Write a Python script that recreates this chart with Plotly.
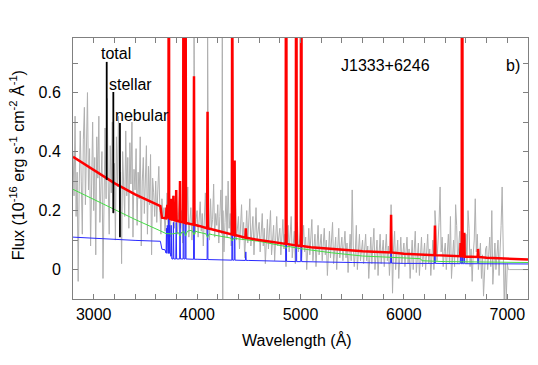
import plotly.graph_objects as go

# ---------------- data ----------------
# Observed spectrum (grey), sampled on a 10 A grid starting at 2800 A
obs_start = 2800
obs_step = 10
obs_flux = [
    # 2800-2990
    0.40, 0.25, 0.52, 0.18, 0.33, -0.04, 0.28, 0.47, 0.30, 0.12, 0.44, 0.55, 0.22, 0.36, 0.60, 0.27, 0.41, 0.08, 0.35, 0.50,
    # 3000-3190
    0.20, 0.38, 0.05, 0.45, 0.31, 0.52, 0.16, 0.29, 0.40, -0.03, 0.34, 0.48, 0.24, 0.58, 0.30, 0.12, 0.42, 0.26, 0.50, 0.19,
    # 3200-3390
    0.36, 0.10, 0.45, 0.28, 0.52, 0.21, 0.33, 0.02, 0.40, 0.30, 0.18, 0.47, 0.25, 0.38, 0.14, 0.43, 0.29, 0.50, 0.11, 0.34,
    # 3400-3590
    0.27, 0.41, 0.15, 0.33, 0.24, 0.45, 0.08, 0.30, 0.38, 0.19, 0.28, 0.42, 0.12, 0.35, 0.22, 0.39, 0.05, 0.31, 0.26, 0.18,
    # 3600-3790
    0.30, 0.16, 0.27, 0.35, 0.20, 0.12, 0.24, 0.18, 0.21, 0.13, 0.19, 0.26, 0.15, 0.22, 0.11, 0.20, 0.17, 0.25, 0.14, 0.19,
    # 3800-3990
    0.22, 0.12, 0.18, 0.25, 0.14, 0.20, 0.09, 0.17, 0.23, 0.13, 0.19, 0.28, 0.11, 0.16, 0.21, 0.10, 0.18, 0.24, 0.12, 0.17,
    # 4000-4190
    0.20, 0.11, 0.16, 0.23, 0.13, 0.19, 0.08, 0.15, 0.26, 0.12, 0.18, 0.21, 0.10, 0.24, 0.14, 0.17, 0.29, 0.11, 0.19, 0.15,
    # 4200-4390
    0.22, 0.09, 0.18, 0.27, 0.12, 0.20, 0.06, 0.16, 0.25, 0.11, 0.30, 0.14, 0.19, 0.08, 0.23, 0.13, 0.17, 0.26, 0.10, 0.15,
    # 4400-4590
    0.18, 0.07, 0.14, 0.22, 0.10, 0.16, 0.04, 0.13, 0.20, 0.09, 0.15, 0.24, 0.08, 0.12, 0.18, 0.05, 0.14, 0.21, 0.10, 0.13,
    # 4600-4790
    0.16, 0.06, 0.12, 0.19, 0.08, 0.14, 0.02, 0.11, 0.17, 0.07, 0.13, 0.20, 0.05, 0.10, 0.15, 0.03, 0.12, 0.18, 0.08, 0.11,
    # 4800-4990
    0.14, 0.05, 0.10, 0.17, 0.07, 0.12, 0.01, 0.09, 0.15, 0.06, 0.11, 0.18, 0.04, 0.09, 0.13, 0.02, 0.10, 0.16, 0.06, 0.10,
    # 5000-5190
    0.13, 0.04, 0.09, 0.15, 0.06, 0.11, 0.00, 0.08, 0.14, 0.05, 0.10, 0.17, 0.03, 0.08, 0.12, 0.01, 0.09, 0.15, 0.05, 0.09,
    # 5200-5390
    0.12, 0.03, 0.08, 0.14, 0.05, 0.10, -0.02, 0.07, 0.13, 0.04, 0.09, 0.16, 0.02, 0.07, 0.11, 0.00, 0.08, 0.14, 0.04, 0.08,
    # 5400-5590
    0.11, 0.03, 0.08, 0.13, 0.04, 0.09, -0.01, 0.06, 0.12, 0.03, 0.27, 0.08, 0.01, 0.06, 0.15, 0.00, 0.07, 0.12, 0.03, 0.08,
    # 5600-5790
    0.10, 0.02, 0.07, 0.12, 0.03, 0.08, -0.03, 0.06, 0.11, 0.02, 0.08, 0.14, 0.00, 0.05, 0.10, -0.02, 0.06, 0.12, 0.02, 0.07,
    # 5800-5990
    0.10, 0.01, 0.07, 0.12, 0.03, 0.08, -0.02, 0.05, 0.11, -0.08, 0.07, 0.13, 0.00, 0.05, 0.10, -0.03, 0.06, 0.11, 0.02, 0.07,
    # 6000-6190
    0.09, 0.01, 0.06, 0.11, 0.02, 0.07, -0.03, 0.05, 0.10, 0.00, 0.07, 0.13, -0.01, 0.04, 0.09, -0.02, 0.06, 0.11, 0.01, 0.06,
    # 6200-6390
    0.09, 0.00, 0.06, 0.12, 0.02, 0.07, -0.02, 0.05, 0.10, 0.00, 0.07, 0.14, 0.03, 0.08, 0.16, 0.28, 0.06, 0.11, 0.01, 0.06,
    # 6400-6590
    0.09, 0.00, 0.06, 0.12, 0.02, 0.18, -0.03, 0.05, 0.10, 0.01, 0.22, 0.15, 0.02, 0.08, 0.13, 0.04, 0.09, 0.12, 0.03, 0.08,
    # 6600-6790
    0.12, 0.02, 0.20, 0.14, 0.01, 0.07, -0.04, 0.05, 0.10, 0.24, 0.06, 0.12, 0.00, 0.04, 0.09, -0.03, 0.05, -0.09, 0.03, 0.07,
    # 6800-6990
    0.08, 0.00, 0.05, 0.11, 0.01, 0.20, -0.05, 0.04, 0.09, 0.00, 0.06, 0.10, -0.02, 0.05, 0.15, 0.28, 0.12, -0.12, 0.02, -0.10,
    # 7000-7190
    0.02, 0.00, 0.00, 0.00, 0.00, 0.00, 0.00, 0.00, 0.00, 0.00, 0.00, 0.00, 0.00, 0.00, 0.00, 0.00, 0.00, 0.00, 0.00, 0.00,
    # 7200
    0.00,
]
# narrow features in the observed spectrum
obs_spike_wave = [3727, 3869, 3889, 3970, 4101, 4244, 4248, 4340, 4861, 4959, 5007, 5876, 6300, 6563]
obs_spike_flux = [1.2, 1.0, 0.9, 0.9, 0.9, 1.0, -0.2, 1.0, 1.0, 1.0, 1.0, 0.22, 0.20, 1.0]

# Emission-line wavelengths (A)
line_wave = [3704, 3712, 3727, 3734, 3750, 3771, 3798, 3835, 3869, 3889, 3970, 4101,
             4340, 4363, 4471, 4861, 4959, 5007, 5876, 6300, 6548, 6563, 6584, 6717]

# Total model (red)
tot_cont_wave = [2800, 3000, 3200, 3400, 3500, 3645, 3660, 3700, 3760, 3850, 3930, 4020,
                 4150, 4250, 4420, 4600, 4800, 5100, 5400, 5600, 6000, 6400, 6800, 7200]
tot_cont_flux = [0.382, 0.336, 0.293, 0.255, 0.238, 0.215, 0.176, 0.174, 0.170, 0.162, 0.156, 0.148,
                 0.136, 0.127, 0.113, 0.100, 0.089, 0.076, 0.068, 0.062, 0.054, 0.047, 0.040, 0.034]
tot_line_base = [0.174, 0.173, 0.173, 0.172, 0.171, 0.169, 0.166, 0.163, 0.160, 0.158, 0.152, 0.140,
                 0.119, 0.117, 0.108, 0.087, 0.082, 0.080, 0.058, 0.049, 0.045, 0.045, 0.044, 0.043]
tot_line_peak = [0.21, 0.22, 2.0, 0.23, 0.24, 0.25, 0.27, 0.30, 1.5, 1.0, 0.655, 0.535,
                 1.2, 0.37, 0.14, 2.5, 2.5, 3.0, 0.186, 0.149, 0.09, 3.0, 0.125, 0.07]

# Stellar model (green)
st_cont_wave = [2800, 3000, 3160, 3400, 3640, 3700, 3760, 3850, 3930, 4000, 4150, 4400, 4600,
                4800, 5000, 5300, 5600, 5900, 6160, 6175, 6400, 7200]
st_cont_flux = [0.272, 0.238, 0.210, 0.170, 0.132, 0.122, 0.121, 0.127, 0.133, 0.128, 0.118, 0.104, 0.096,
                0.083, 0.071, 0.057, 0.046, 0.040, 0.037, 0.030, 0.027, 0.024]
st_abs_wave = [3835, 3889, 3970, 4101, 4340, 4861]
st_abs_base = [0.125, 0.129, 0.131, 0.121, 0.107, 0.079]
st_abs_min = [0.114, 0.114, 0.118, 0.109, 0.097, 0.072]

# Nebular model (blue)
neb_cont_wave = [2800, 3000, 3200, 3400, 3645, 3660, 3690, 3695, 3745, 3756, 4000, 4500,
                 5000, 5500, 6000, 6600, 7200]
neb_cont_flux = [0.110, 0.106, 0.102, 0.099, 0.096, 0.069, 0.067, 0.056, 0.054, 0.036, 0.035, 0.031,
                 0.027, 0.024, 0.021, 0.020, 0.019]
neb_line_base = [0.056, 0.055, 0.055, 0.055, 0.045, 0.036, 0.036, 0.036, 0.036, 0.036, 0.035, 0.034,
                 0.032, 0.032, 0.031, 0.028, 0.027, 0.027, 0.022, 0.021, 0.020, 0.020, 0.020, 0.020]
neb_line_peak = [0.14, 0.15, 1.5, 0.15, 0.15, 0.16, 0.16, 0.17, 1.2, 0.8, 0.55, 0.43,
                 1.0, 0.27, 0.06, 2.0, 2.0, 2.5, 0.14, 0.12, 0.06, 2.5, 0.09, 0.05]

# Labels with pointer lines
label_text = ["total", "stellar", "nebular"]
label_text_x = [3050, 3130, 3188]
label_text_y = [0.731, 0.626, 0.521]
label_line_x = [3126, 3190, 3254]
label_line_top = [0.704, 0.602, 0.497]
label_line_bottom = [0.304, 0.192, 0.110]

x_ticks = list(range(2800, 7201, 200))
x_tick_labels = {3000: "3000", 4000: "4000", 5000: "5000", 6000: "6000", 7000: "7000"}
y_ticks = [0.0, 0.1, 0.2, 0.3, 0.4, 0.5, 0.6, 0.7]
y_tick_labels = ["0", "", "0.2", "", "0.4", "", "0.6", ""]

# ---------------- build traces ----------------
LINE_HW = 4
ABS_HW = 15


def merge(cw, cf, lw, lb, lp, hw):
    pts = list(zip(cw, cf))
    for w, b, p in zip(lw, lb, lp):
        pts += [(w - hw, b), (w, p), (w + hw, b)]
    pts.sort(key=lambda t: t[0])
    return [p[0] for p in pts], [p[1] for p in pts]


obs_pts = [(obs_start + obs_step * i, f) for i, f in enumerate(obs_flux)]
obs_pts += list(zip(obs_spike_wave, obs_spike_flux))
obs_pts.sort(key=lambda t: t[0])
obs_x = [p[0] for p in obs_pts]
obs_y = [p[1] for p in obs_pts]

tot_x, tot_y = merge(tot_cont_wave, tot_cont_flux, line_wave, tot_line_base, tot_line_peak, LINE_HW)
neb_x, neb_y = merge(neb_cont_wave, neb_cont_flux, line_wave, neb_line_base, neb_line_peak, LINE_HW)
st_x, st_y = merge(st_cont_wave, st_cont_flux, st_abs_wave, st_abs_base, st_abs_min, ABS_HW)

FONT = "Liberation Sans, Arial, Helvetica, sans-serif"

fig = go.Figure()
fig.add_trace(go.Scatter(x=obs_x, y=obs_y, mode="lines", line=dict(color="#b0b0b0", width=1)))
fig.add_trace(go.Scatter(x=neb_x, y=neb_y, mode="lines", line=dict(color="#2a2aff", width=1)))
fig.add_trace(go.Scatter(x=st_x, y=st_y, mode="lines", line=dict(color="#44dd44", width=1)))
fig.add_trace(go.Scatter(x=tot_x, y=tot_y, mode="lines", line=dict(color="#ff0000", width=2.5)))
for lx, lt, lb in zip(label_line_x, label_line_top, label_line_bottom):
    fig.add_trace(go.Scatter(x=[lx, lx], y=[lt, lb], mode="lines", line=dict(color="black", width=1.8)))

annotations = []
for t, tx, ty in zip(label_text, label_text_x, label_text_y):
    annotations.append(dict(x=tx, y=ty, xref="x", yref="y", text=t, showarrow=False,
                            xanchor="left", yanchor="middle", font=dict(size=16, color="black")))
annotations.append(dict(x=5375, y=0.693, xref="x", yref="y", text="J1333+6246", showarrow=False,
                        xanchor="left", yanchor="middle", font=dict(size=16, color="black")))
annotations.append(dict(x=6970, y=0.693, xref="x", yref="y", text="b)", showarrow=False,
                        xanchor="left", yanchor="middle", font=dict(size=16, color="black")))
annotations.append(dict(x=-0.123, y=0.513, xref="paper", yref="paper", textangle=-90,
                        text="Flux (10<sup>-16</sup> erg s<sup>-1</sup> cm<sup>-2</sup> Å<sup>-1</sup>)",
                        showarrow=False, xanchor="center", yanchor="middle",
                        font=dict(size=16, color="black")))
annotations.append(dict(x=0.4916, y=-0.157, xref="paper", yref="paper", text="Wavelength (Å)",
                        showarrow=False, xanchor="center", yanchor="middle",
                        font=dict(size=16, color="black")))

axis_common = dict(showgrid=False, zeroline=False, showline=True, linecolor="#808080", linewidth=1,
                   mirror="ticks", ticks="inside", ticklen=5, tickcolor="#808080", tickwidth=1,
                   tickfont=dict(size=16, color="black", family=FONT))

# the page body has an 8 px margin, so the figure is sized to fit inside it
fig.update_layout(
    width=522, height=349,
    margin=dict(l=65, r=2, t=30, b=58),
    paper_bgcolor="white", plot_bgcolor="white",
    showlegend=False,
    font=dict(family=FONT, size=16, color="black"),
    annotations=annotations,
    xaxis=dict(range=[2800, 7200], tickmode="array", tickvals=x_ticks,
               ticktext=[x_tick_labels.get(v, "") for v in x_ticks], ticklabelstandoff=1,
               **axis_common),
    yaxis=dict(range=[-0.0997, 0.785], tickmode="array", tickvals=y_ticks,
               ticktext=y_tick_labels, ticklabelstandoff=8, **axis_common),
)

fig.write_html("out.html")
